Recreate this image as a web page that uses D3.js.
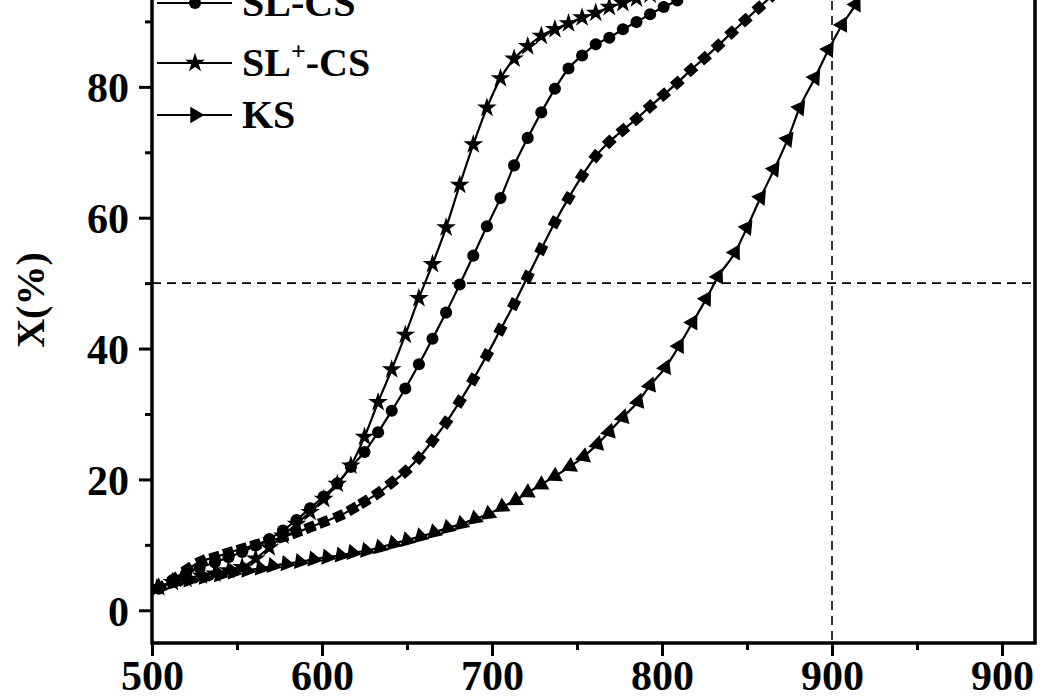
<!DOCTYPE html>
<html>
<head>
<meta charset="utf-8">
<script src="https://cdn.jsdelivr.net/npm/d3@7/dist/d3.min.js"></script>
<style>
  html, body { margin: 0; padding: 0; background: #fff; }
  svg { display: block; }
  text { font-family: "Liberation Serif", "Times New Roman", serif; font-weight: bold; fill: #000; }
</style>
</head>
<body>
<svg id="chart" width="1050" height="700"></svg>
<script>
// ---- data ----
const csX = [505,513,521,529,537,545,553,561,569,577,585,593,601,610,618,625,633,641,649,657,665,673,681,689,697,705,713,721,729,737,745,753,761,769,777,785,793,801,809,817,825,833,841,849,857,865,873,881];
const csY = [3.5,4.8,6.3,7.5,8.1,8.8,9.4,10.0,10.6,11.2,11.9,12.7,13.5,14.4,15.5,16.6,17.9,19.5,21.2,23.3,25.9,28.7,31.9,35.3,39.0,42.9,46.8,51.0,55.2,59.3,63.0,66.4,69.4,71.6,73.4,75.1,77.0,78.8,80.6,82.6,84.4,86.3,88.3,90.2,92.1,94.0,96.0,98.0];

const slX = [504,512,520,528,537,545,553,561,569,577,585,593,601,609,617,625,633,641,649,657,665,673,681,689,697,705,713,721,729,737,745,753,761,769,777,785,793,801,809,817,825];
const slY = [3.3,4.6,5.6,6.5,7.3,8.1,8.9,9.9,10.9,12.2,13.8,15.6,17.4,19.4,21.9,24.2,27.2,30.5,33.9,37.6,41.5,45.5,49.8,54.2,58.7,63.0,68.0,72.2,76.1,79.7,82.8,84.8,86.5,87.5,88.8,89.9,91.1,92.2,93.2,94.2,95.2];

const slpX = [504,512,520,529,537,545,553,561,569,577,585,593,601,609,617,625,633,641,649,657,665,673,681,689,697,705,713,721,729,737,745,753,761,769,777,785,793];
const slpY = [3.5,4.3,4.8,5.3,5.6,6.1,6.6,7.9,9.6,11.4,13.2,15.0,17.0,19.3,22.1,26.5,31.8,36.8,42.1,47.7,52.9,58.5,65.0,71.2,76.8,81.3,84.3,86.2,87.8,88.8,89.7,90.6,91.3,92.2,92.8,93.5,94.1];

const ksX = [504,513,522,531,540,548,556,564,571,579,587,595,603,611,618,626,634,642,650,658,666,674,682,690,698,706,714,721,729,737,746,754,762,769,777,786,793,802,810,818,826,833,843,850,858,866,874,881,890,898,906,914,921,929];
const ksY = [3.5,4.2,4.6,5.0,5.4,5.8,6.1,6.4,6.8,7.1,7.4,7.8,8.1,8.4,8.8,9.1,9.6,10.2,10.7,11.3,11.9,12.6,13.2,14.0,14.7,15.8,16.8,18.0,19.2,20.5,22.0,23.5,25.4,27.3,29.5,31.9,34.4,37.1,40.4,44.0,47.6,51.0,54.7,58.5,63.1,67.4,72.0,76.8,81.4,85.7,89.5,92.6,96.0,99.0];

const legendLabels = ["SL-CS", "SL+-CS", "KS"];
const xTickValues = [500, 600, 700, 800, 900, 1000];
const xTickLabels = ["500", "600", "700", "800", "900", "900"];
const xMinorValues = [550, 650, 750, 850, 950];
const yTickValues = [0, 20, 40, 60, 80];
const yMinorValues = [10, 30, 50, 70, 90];
const refY = 50;
const refX = 900;

// ---- layout ----
const svg = d3.select("#chart");
const L = 152, R = 1035, B = 643, T = -44;
const x = d3.scaleLinear().domain([500, 1020]).range([L, 1036]);
const y = d3.scaleLinear().domain([-5, 100]).range([B, T]);

svg.append("defs").append("clipPath").attr("id", "plotclip")
  .append("rect").attr("x", L).attr("y", T).attr("width", R - L).attr("height", B - T);

// dashed reference lines
const refG = svg.append("g").attr("clip-path", "url(#plotclip)");
refG.append("line").attr("x1", L).attr("x2", R).attr("y1", y(refY)).attr("y2", y(refY))
  .attr("stroke", "#000").attr("stroke-width", 1.6).attr("stroke-dasharray", "9,6");
refG.append("line").attr("x1", x(refX)).attr("x2", x(refX)).attr("y1", T).attr("y2", B)
  .attr("stroke", "#000").attr("stroke-width", 1.6).attr("stroke-dasharray", "9,6");

// series
const series = [
  { xs: csX, ys: csY, sym: d3.symbolSquare, size: 110, rot: "follow" },
  { xs: slX, ys: slY, sym: d3.symbolCircle, size: 115, rot: "none" },
  { xs: slpX, ys: slpY, sym: d3.symbolStar, size: 120, rot: "none" },
  { xs: ksX, ys: ksY, sym: d3.symbolTriangle, size: 115, rot: "mirror" }
];

const line = d3.line().x(d => x(d[0])).y(d => y(d[1])).curve(d3.curveMonotoneX);
const dataG = svg.append("g").attr("clip-path", "url(#plotclip)");

series.forEach(s => {
  const pts = s.xs.map((v, i) => [v, s.ys[i]]);
  dataG.append("path").datum(pts).attr("d", line)
    .attr("fill", "none").attr("stroke", "#000").attr("stroke-width", 2.2);
  const sp = d3.symbol().type(s.sym).size(s.size);
  dataG.selectAll(null).data(pts).enter().append("path")
    .attr("d", sp)
    .attr("fill", "#000")
    .attr("transform", (d, i) => {
      const a = pts[Math.max(0, i - 1)], b = pts[Math.min(pts.length - 1, i + 1)];
      const ang = Math.atan2(y(b[1]) - y(a[1]), x(b[0]) - x(a[0])) * 180 / Math.PI;
      let r = 0;
      if (s.rot === "follow") r = ang;
      if (s.rot === "mirror") r = 90 - ang;
      return `translate(${x(d[0])},${y(d[1])}) rotate(${r})`;
    });
});

// axes
const axisStyle = g => {
  g.select(".domain").remove();
  g.selectAll(".tick line").attr("stroke", "#000").attr("stroke-width", 3);
  g.selectAll(".tick text").style("font-size", "42px").style("font-family", "'Liberation Serif', serif").style("font-weight", "bold");
};

const xAxis = svg.append("g").attr("transform", `translate(0,${B})`)
  .call(d3.axisBottom(x).tickValues(xTickValues).tickSize(13).tickPadding(4)
    .tickFormat((d, i) => xTickLabels[i]));
axisStyle(xAxis);
const xMinor = svg.append("g").attr("transform", `translate(0,${B})`)
  .call(d3.axisBottom(x).tickValues(xMinorValues).tickSize(7).tickFormat(""));
axisStyle(xMinor);

const yAxis = svg.append("g").attr("transform", `translate(${L},0)`)
  .call(d3.axisLeft(y).tickValues(yTickValues).tickSize(13).tickPadding(10));
axisStyle(yAxis);
yAxis.selectAll(".tick text").attr("dy", "0.36em");
const yMinor = svg.append("g").attr("transform", `translate(${L},0)`)
  .call(d3.axisLeft(y).tickValues(yMinorValues).tickSize(7).tickFormat(""));
axisStyle(yMinor);

// frame
svg.append("rect").attr("x", L).attr("y", T).attr("width", R - L).attr("height", B - T)
  .attr("fill", "none").attr("stroke", "#000").attr("stroke-width", 3.5);

// y title
svg.append("text").attr("transform", `translate(44,300) rotate(-90)`)
  .attr("text-anchor", "middle").style("font-size", "40px").text("X(%)");

// legend
const legSyms = [
  { sym: d3.symbolCircle, size: 115, rot: 0 },
  { sym: d3.symbolStar, size: 120, rot: 0 },
  { sym: d3.symbolTriangle, size: 115, rot: 90 }
];
const legY = [3, 63, 115];
legendLabels.forEach((lab, i) => {
  const g = svg.append("g").attr("transform", `translate(0,${legY[i]})`);
  g.append("line").attr("x1", 157).attr("x2", 232).attr("y1", 0).attr("y2", 0)
    .attr("stroke", "#000").attr("stroke-width", 2.2);
  g.append("path").attr("d", d3.symbol().type(legSyms[i].sym).size(legSyms[i].size))
    .attr("transform", `translate(195,0) rotate(${legSyms[i].rot})`).attr("fill", "#000");
  const t = g.append("text").attr("x", 242).attr("y", 13).style("font-size", "40px");
  if (lab.includes("+")) {
    const parts = lab.split("+");
    t.append("tspan").text(parts[0]);
    t.append("tspan").attr("dy", -16).style("font-size", "26px").text("+");
    t.append("tspan").attr("dy", 16).text(parts[1]);
  } else {
    t.text(lab);
  }
});
</script>
</body>
</html>
